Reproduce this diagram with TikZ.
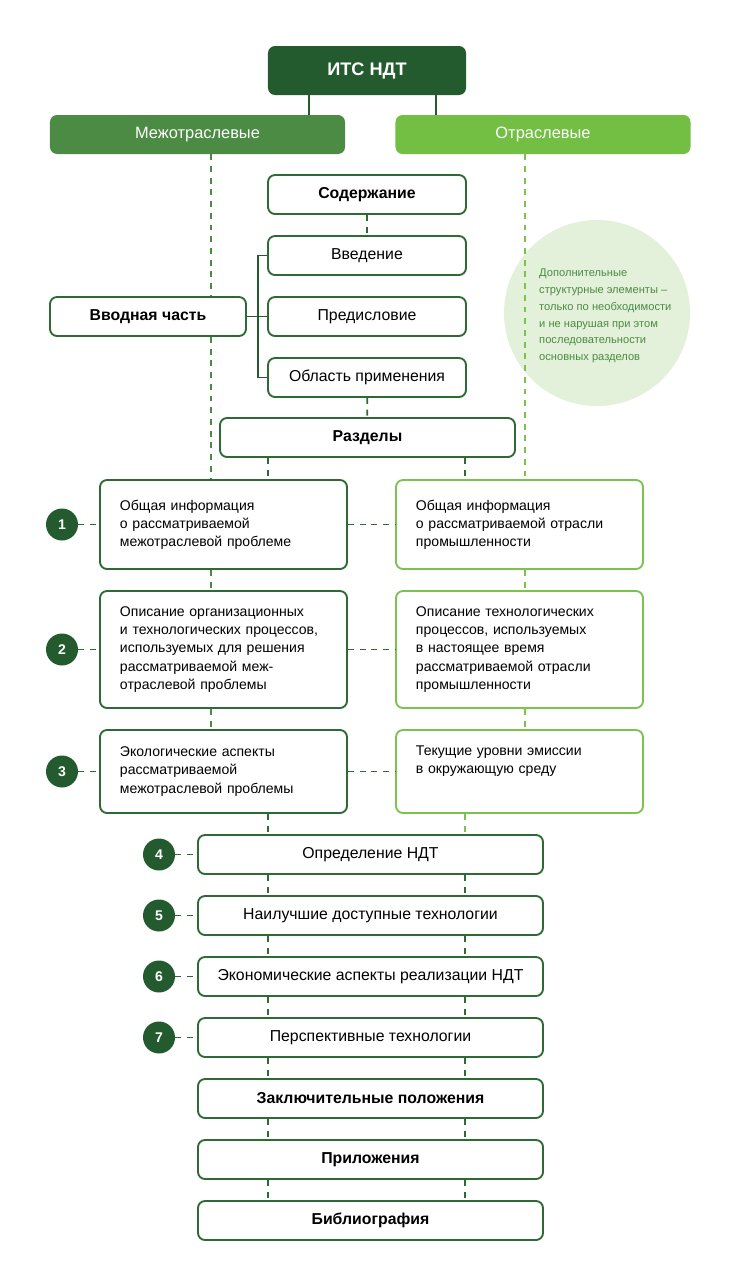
\documentclass[tikz,border=0pt]{standalone}
\usepackage{fontspec}
\setmainfont{Liberation Sans}
\definecolor{itsgreen}{HTML}{235B2F}
\definecolor{midgreen}{HTML}{4B8B43}
\definecolor{lightgreen}{HTML}{72BF44}
\definecolor{edgegreen}{HTML}{2E6A33}
\definecolor{paleedge}{HTML}{7CC24F}
\definecolor{circlefill}{HTML}{E3F0DA}
\tikzset{
  head/.style={rounded corners=6pt, minimum height=1.17cm, minimum width=8.85cm, inner sep=0pt,
    text=white, font=\fontsize{14}{16}\selectfont},
  box/.style={draw=edgegreen, line width=1.6pt, rounded corners=6pt, fill=white, minimum height=1.17cm,
    inner sep=0pt, align=center, font=\fontsize{13.5}{15}\selectfont},
  sbox/.style={draw=edgegreen, line width=1.6pt, rounded corners=6pt, fill=white, text width=6.21cm,
    inner xsep=0.6cm, inner ysep=0pt, align=left, font=\fontsize{12}{15.4}\selectfont},
  rbox/.style={sbox, draw=paleedge},
  num/.style={circle, fill=itsgreen, minimum size=0.96cm, inner sep=0pt, text=white,
    font=\bfseries\fontsize{12}{14}\selectfont},
  tree/.style={itsgreen, line width=1.6pt},
  dline/.style={edgegreen, line width=1.5pt, dash pattern=on 5pt off 5pt},
  lline/.style={dline, paleedge},
  mline/.style={dline, midgreen}
}
\begin{document}
\begin{tikzpicture}[x=0.03cm, y=-0.03cm]
  \useasboundingbox[fill=white] (0,0) rectangle (738,1280);

  % columns for the connectors
  \coordinate (itsL) at (309,0);
  \coordinate (itsR) at (436,0);
  \coordinate (OL) at (211,0);
  \coordinate (OR) at (525,0);
  \coordinate (IL) at (268,0);
  \coordinate (IR) at (465,0);
  \coordinate (brk) at (258,0);

  % note
  \node[circle, fill=circlefill, minimum size=5.58cm, inner sep=0pt] (note) at (597,313) {};
  \node[anchor=west, align=left, text=midgreen, inner sep=0pt,
    font=\fontsize{9.5}{14.3}\selectfont] (notetxt) at (539,316)
    {Дополнительные\\структурные элементы –\\только по необходимости\\и не нарушая при этом\\последовательности\\основных разделов};

  % top
  \node[head, fill=itsgreen, minimum width=5.94cm, minimum height=1.47cm,
    font=\bfseries\fontsize{15.5}{18}\selectfont] (its) at (367,70.5) {ИТС НДТ};
  \node[head, fill=midgreen] (mezh) at (197.5,134.5) {Межотраслевые};
  \node[head, fill=lightgreen] (otr) at (543,134.5) {Отраслевые};

  % intro
  \node[box, minimum width=5.94cm, font=\bfseries\fontsize{13.5}{15}\selectfont] (sod) at (367,194.5) {Содержание};
  \node[box, minimum width=5.94cm] (vved) at (367,255.5) {Введение};
  \node[box, minimum width=5.94cm] (pred) at (367,316.5) {Предисловие};
  \node[box, minimum width=5.94cm] (obl) at (367,377.5) {Область применения};
  \node[box, minimum width=5.88cm, font=\bfseries\fontsize{13.5}{15}\selectfont] (vvod) at (148,316.5) {Вводная часть};
  \node[box, minimum width=8.85cm, font=\bfseries\fontsize{13.5}{15}\selectfont] (razd) at (367.5,437.5) {Разделы};

  % sections 1-3
  \node[sbox, minimum height=2.67cm] (s1L) at (223.5,524.5)
    {Общая информация\\о рассматриваемой\\межотраслевой проблеме};
  \node[rbox, minimum height=2.67cm] (s1R) at (519.5,524.5)
    {Общая информация\\о рассматриваемой отрасли\\промышленности};
  \node[sbox, minimum height=3.51cm] (s2L) at (223.5,649.5)
    {Описание организационных\\и технологических процессов,\\используемых для решения\\рассматриваемой меж-\\отраслевой проблемы};
  \node[rbox, minimum height=3.51cm] (s2R) at (519.5,649.5)
    {Описание технологических\\процессов, используемых\\в настоящее время\\рассматриваемой отрасли\\промышленности};
  \node[sbox, minimum height=2.49cm] (s3L) at (223.5,771.5)
    {Экологические аспекты\\рассматриваемой\\межотраслевой проблемы};
  \node[rbox, minimum height=2.49cm] (s3R) at (519.5,771.5)
    {Текущие уровни эмиссии\\в окружающую среду\\\strut};

  \node[num] (n1) at (62,524.5) {1};
  \node[num] (n2) at (62,649.5) {2};
  \node[num] (n3) at (62,771.5) {3};

  % sections 4-7 and the end
  \node[box, minimum width=10.35cm] (s4) at (370.5,854.5) {Определение НДТ};
  \node[box, minimum width=10.35cm] (s5) at (370.5,915.5) {Наилучшие доступные технологии};
  \node[box, minimum width=10.35cm] (s6) at (370.5,976.5) {Экономические аспекты реализации НДТ};
  \node[box, minimum width=10.35cm] (s7) at (370.5,1037.5) {Перспективные технологии};
  \node[box, minimum width=10.35cm, font=\bfseries\fontsize{13.5}{15}\selectfont] (zakl) at (370.5,1098.5) {Заключительные положения};
  \node[box, minimum width=10.35cm, font=\bfseries\fontsize{13.5}{15}\selectfont] (pril) at (370.5,1159.5) {Приложения};
  \node[box, minimum width=10.35cm, font=\bfseries\fontsize{13.5}{15}\selectfont] (bibl) at (370.5,1220.5) {Библиография};

  \node[num] (n4) at (159,854.5) {4};
  \node[num] (n5) at (159,915.5) {5};
  \node[num] (n6) at (159,976.5) {6};
  \node[num] (n7) at (159,1037.5) {7};

  % solid links
  \draw[tree] (its.south -| itsL) -- (mezh.north -| itsL);
  \draw[tree] (its.south -| itsR) -- (otr.north -| itsR);
  \draw[tree] (vvod.east) -- (pred.west);
  \draw[tree] (vved.west) -- (vved.west -| brk) -- (obl.west -| brk) -- (obl.west);

  % dashed links
  \draw[mline] (mezh.south -| OL) -- (vvod.north -| OL);
  \draw[mline] (vvod.south -| OL) -- (s1L.north -| OL);
  \draw[mline] (s1L.south -| OL) -- (s2L.north -| OL);
  \draw[mline] (s2L.south -| OL) -- (s3L.north -| OL);
  \draw[lline] (otr.south -| OR) -- (s1R.north -| OR);
  \draw[lline] (s1R.south -| OR) -- (s2R.north -| OR);
  \draw[lline] (s2R.south -| OR) -- (s3R.north -| OR);

  \draw[dline] (sod) -- (vved);
  \draw[dline] (obl) -- (razd);
  \draw[dline] (razd.south -| IL) -- (s1L.north -| IL);
  \draw[dline] (razd.south -| IR) -- (s1R.north -| IR);
  \draw[dline] (s3L.south -| IL) -- (s4.north -| IL);
  \draw[lline] (s3R.south -| IR) -- (s4.north -| IR);

  \foreach \a/\b in {s4/s5, s5/s6, s6/s7, s7/zakl, zakl/pril, pril/bibl} {
    \draw[dline] (\a.south -| IL) -- (\b.north -| IL);
    \draw[dline] (\a.south -| IR) -- (\b.north -| IR);
  }

  \foreach \i in {1,2,3} {
    \draw[dline] (n\i) -- (s\i L);
    \draw[dline] (s\i L) -- (s\i R);
  }
  \foreach \i in {4,5,6,7}
    \draw[dline] (n\i) -- (s\i);
\end{tikzpicture}
\end{document}
